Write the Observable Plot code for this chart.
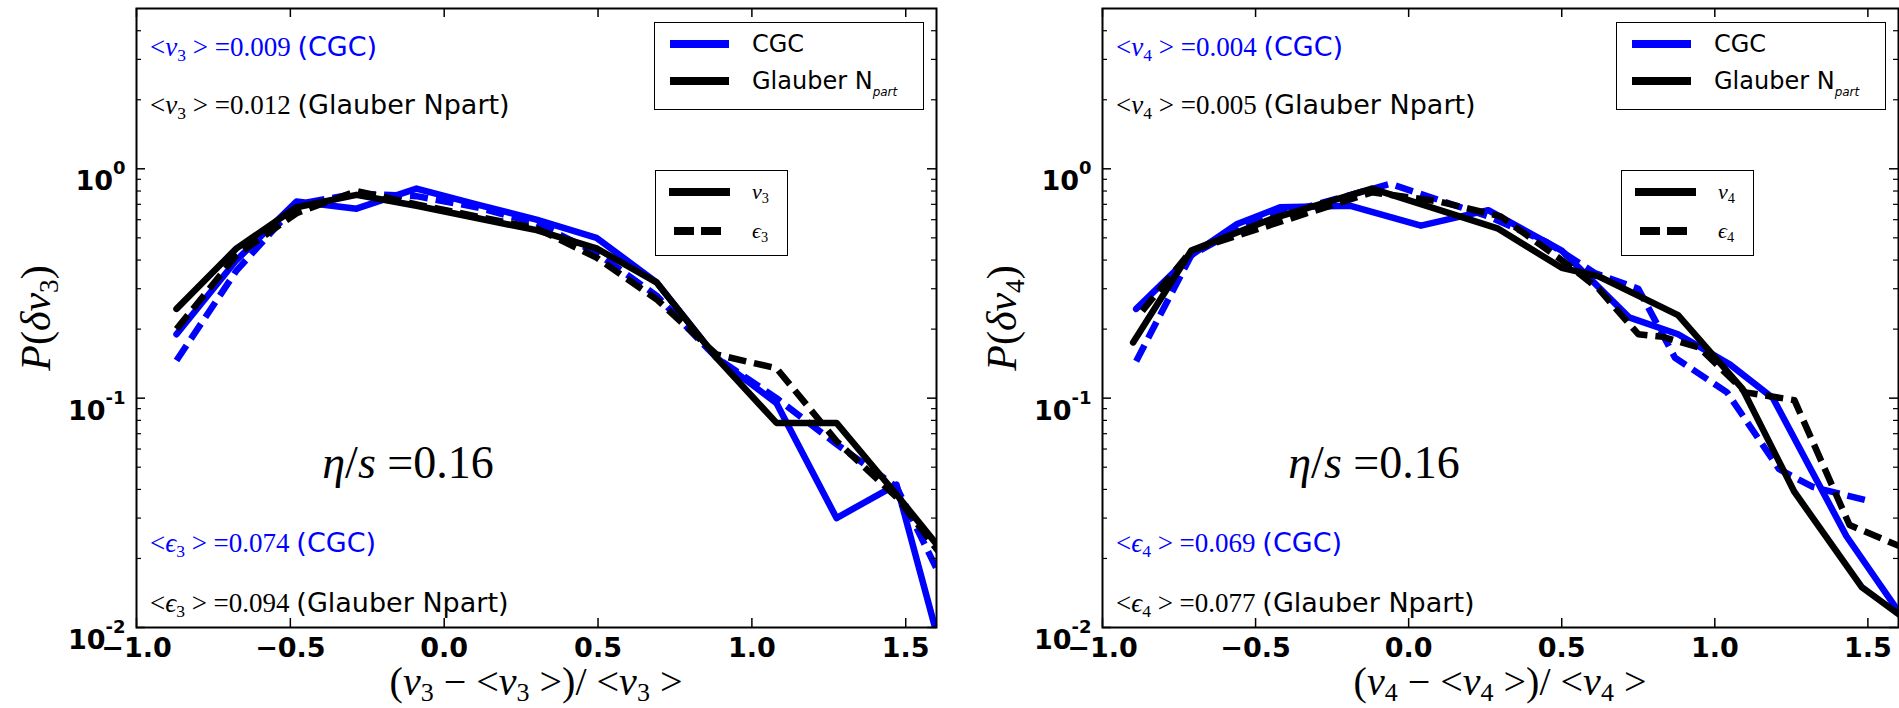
<!DOCTYPE html>
<html><head><meta charset="utf-8">
<script src="https://cdn.jsdelivr.net/npm/d3@7"></script>
<script src="https://cdn.jsdelivr.net/npm/@observablehq/plot@0.6"></script>
<style>
body{margin:0;background:#fff;}
#wrap{position:relative;width:1899px;height:708px;overflow:hidden;background:#fff;}
.panel{position:absolute;top:0;}
.ann{position:absolute;white-space:nowrap;line-height:1.1;}
.cm{font-family:"Liberation Serif",serif;}
.sans{font-family:"DejaVu Sans",sans-serif;}
sub{font-size:65%;vertical-align:-0.3em;line-height:0;}
.xl sub{vertical-align:-0.22em;}
.leg{position:absolute;border:1.5px solid #000;background:#fff;box-sizing:border-box;}
</style></head><body><div id="wrap"></div><script>
// ---------- data ----------
const xTicks = [-1.0, -0.5, 0.0, 0.5, 1.0, 1.5];
const yTicks = [0.01, 0.1, 1];
const yMinorTicks = [0.02,0.03,0.04,0.05,0.06,0.07,0.08,0.09,0.2,0.3,0.4,0.5,0.6,0.7,0.8,0.9,2,3,4];

// left panel (v3)
const v3CgcX = [-0.87,-0.675,-0.48,-0.285,-0.09,0.105,0.30,0.495,0.69,0.885,1.08,1.275,1.47,1.665];
const v3CgcY = [0.19,0.40,0.72,0.67,0.82,0.70,0.60,0.50,0.32,0.15,0.095,0.030,0.042,0.0045];
const e3CgcX = [-0.87,-0.675,-0.48,-0.285,-0.09,0.105,0.30,0.495,0.69,0.885,1.08,1.275,1.47,1.665];
const e3CgcY = [0.146,0.36,0.70,0.78,0.76,0.68,0.58,0.43,0.28,0.15,0.10,0.063,0.041,0.012];
const v3GlbX = [-0.87,-0.675,-0.48,-0.285,-0.09,0.105,0.30,0.495,0.69,0.885,1.08,1.275,1.47,1.665];
const v3GlbY = [0.245,0.45,0.68,0.77,0.69,0.61,0.54,0.45,0.32,0.15,0.078,0.078,0.038,0.018];
const e3GlbX = [-0.87,-0.675,-0.48,-0.285,-0.09,0.105,0.30,0.495,0.69,0.885,1.08,1.275,1.47,1.665];
const e3GlbY = [0.20,0.42,0.64,0.80,0.70,0.62,0.55,0.41,0.27,0.155,0.135,0.065,0.037,0.017];

// right panel (v4)
const v4CgcX = [-0.89,-0.71,-0.56,-0.42,-0.19,0.04,0.26,0.50,0.72,0.88,1.05,1.19,1.43,1.66];
const v4CgcY = [0.245,0.42,0.575,0.68,0.69,0.565,0.66,0.44,0.225,0.19,0.14,0.10,0.025,0.009];
const e4CgcX = [-0.89,-0.71,-0.50,-0.30,-0.06,0.26,0.45,0.61,0.75,0.87,1.04,1.21,1.32,1.49];
const e4CgcY = [0.145,0.42,0.60,0.70,0.86,0.62,0.48,0.35,0.30,0.15,0.106,0.049,0.041,0.036];
const v4GlbX = [-0.90,-0.71,-0.44,-0.12,0.29,0.50,0.62,0.88,1.09,1.26,1.48,1.66];
const v4GlbY = [0.175,0.44,0.61,0.82,0.55,0.37,0.34,0.23,0.11,0.039,0.015,0.010];
const e4GlbX = [-0.87,-0.71,-0.12,0.10,0.30,0.50,0.62,0.75,0.83,0.95,1.10,1.26,1.44,1.66];
const e4GlbY = [0.24,0.44,0.79,0.72,0.62,0.40,0.30,0.19,0.185,0.166,0.106,0.098,0.028,0.021];

const meanLabelsV3 = ["0.009", "0.012"];
const meanLabelsE3 = ["0.074", "0.094"];
const meanLabelsV4 = ["0.004", "0.005"];
const meanLabelsE4 = ["0.069", "0.077"];
const etaOverS = "0.16";

// ---------- layout ----------
const BLUE = "#0000ff";
const H = 708, MT = 8, MB = 81;
const wrap = document.getElementById("wrap");
const ns = "http://www.w3.org/2000/svg";

function toRows(xs, ys) { return xs.map((x, i) => ({x, y: ys[i]})); }

function addDiv(html, left, top, cls, style) {
  const d = document.createElement("div");
  d.className = "ann " + (cls || "");
  d.innerHTML = html;
  d.style.left = left + "px";
  d.style.top = top + "px";
  Object.assign(d.style, style || {});
  wrap.appendChild(d);
  return d;
}

function buildPanel(p) {
  const innerH = H - MT - MB;
  const innerW = p.width - p.ml - p.mr;
  const lineMarks = p.series.map(s => Plot.line(toRows(s.x, s.y), {
    x: "x", y: "y", stroke: s.color, strokeWidth: 6.5,
    strokeDasharray: s.dash ? "18,8" : null,
    strokeLinejoin: "round", strokeLinecap: s.dash ? "butt" : "round", clip: true
  }));
  const plot = Plot.plot({
    width: p.width, height: H, marginLeft: p.ml, marginRight: p.mr, marginTop: MT, marginBottom: MB,
    style: {fontFamily: "DejaVu Sans", background: "transparent", overflow: "visible"},
    x: {domain: [-1, 1.6]},
    y: {type: "log", domain: [0.01, 5]},
    marks: [
      ...lineMarks,
      Plot.tickX(xTicks, {x: d => d, insetTop: innerH - 9, strokeWidth: 1.5}),
      Plot.tickX(xTicks, {x: d => d, insetBottom: innerH - 9, strokeWidth: 1.5}),
      Plot.tickY(yTicks, {y: d => d, insetRight: innerW - 9, strokeWidth: 1.5}),
      Plot.tickY(yTicks, {y: d => d, insetLeft: innerW - 9, strokeWidth: 1.5}),
      Plot.tickY(yMinorTicks, {y: d => d, insetRight: innerW - 5, strokeWidth: 1.2}),
      Plot.tickY(yMinorTicks, {y: d => d, insetLeft: innerW - 5, strokeWidth: 1.2}),
      Plot.axisX(xTicks, {tickSize: 0, tickPadding: 10, label: null, fontSize: 27, fontWeight: "bold",
        tickFormat: d => d.toFixed(1).replace("-", "\u2212")}),
      Plot.axisY(yTicks, {tickSize: 0, tickPadding: 11, label: null, fontSize: 27, fontWeight: "bold", dy: 13,
        tickFormat: d => String(Math.round(Math.log10(d)))}),
      Plot.frame({strokeWidth: 2})
    ]
  });
  plot.classList.add("panel");
  plot.style.left = p.left + "px";
  wrap.appendChild(plot);
  // superscript exponents on y tick labels
  plot.querySelectorAll('g[aria-label="y-axis tick label"] text').forEach(t => {
    const e = t.textContent;
    t.textContent = "";
    const a = document.createElementNS(ns, "tspan"); a.textContent = "10";
    const b = document.createElementNS(ns, "tspan"); b.textContent = e;
    b.setAttribute("dy", "-16"); b.setAttribute("font-size", "18");
    t.append(a, b);
  });

  const FL = p.left + p.ml, FR = p.left + p.width - p.mr, FT = MT, FB = H - MB;
  const n = p.n;
  // annotations
  addDiv(`&lt;<i>v</i><sub>${n}</sub> &gt; =${p.vMeans[0]} <span class="sans">(CGC)</span>`, FL + 14, 47, "cm", {color: BLUE, fontSize: "27px", transform: "translateY(-50%)"});
  addDiv(`&lt;<i>v</i><sub>${n}</sub> &gt; =${p.vMeans[1]} <span class="sans">(Glauber Npart)</span>`, FL + 14, 105, "cm", {color: "#000", fontSize: "27px", transform: "translateY(-50%)"});
  addDiv(`&lt;<i>ϵ</i><sub>${n}</sub> &gt; =${p.eMeans[0]} <span class="sans">(CGC)</span>`, FL + 14, 543, "cm", {color: BLUE, fontSize: "27px", transform: "translateY(-50%)"});
  addDiv(`&lt;<i>ϵ</i><sub>${n}</sub> &gt; =${p.eMeans[1]} <span class="sans">(Glauber Npart)</span>`, FL + 14, 603, "cm", {color: "#000", fontSize: "27px", transform: "translateY(-50%)"});
  addDiv(`<i>η</i>/<i>s</i> =${etaOverS}`, FL + 272, 463, "cm", {fontSize: "46px", transform: "translate(-50%,-50%)"});
  // axis labels
  addDiv(`(<i>v</i><sub>${n}</sub> − &lt;<i>v</i><sub>${n}</sub> &gt;)/ &lt;<i>v</i><sub>${n}</sub> &gt;`, (FL + FR) / 2, 664, "cm xl", {fontSize: "40px", lineHeight: "0.92", transform: "translateX(-50%)"});
  addDiv(`<i>P</i>(<i>δv</i><sub>${n}</sub>)`, FL - 100, (FT + FB) / 2, "cm", {fontSize: "42px", transform: "translate(-50%,-50%) rotate(-90deg)"});

  // legend 1 (model)
  const l1 = document.createElement("div");
  l1.className = "leg";
  Object.assign(l1.style, {left: (FR - 12 - 270) + "px", top: "22px", width: "270px", height: "88px"});
  l1.innerHTML = `
    <svg width="270" height="88" style="position:absolute;left:0;top:0">
      <line x1="15" x2="74" y1="21" y2="21" stroke="${BLUE}" stroke-width="8"/>
      <line x1="15" x2="74" y1="58" y2="58" stroke="#000" stroke-width="8"/>
    </svg>
    <div class="ann sans" style="left:97px;top:21px;transform:translateY(-50%);font-size:24px">CGC</div>
    <div class="ann sans" style="left:97px;top:58px;transform:translateY(-50%);font-size:24px">Glauber N<sub style="font-size:50%;font-style:italic;vertical-align:-0.6em">part</sub></div>`;
  wrap.appendChild(l1);
  // legend 2 (quantity)
  const l2 = document.createElement("div");
  l2.className = "leg";
  Object.assign(l2.style, {left: (FL + 519) + "px", top: "170px", width: "133px", height: "86px"});
  l2.innerHTML = `
    <svg width="133" height="86" style="position:absolute;left:0;top:0">
      <line x1="13" x2="74" y1="21" y2="21" stroke="#000" stroke-width="8"/>
      <line x1="18" x2="65" y1="60" y2="60" stroke="#000" stroke-width="8" stroke-dasharray="20,7"/>
    </svg>
    <div class="ann cm" style="left:96px;top:21px;transform:translateY(-50%);font-size:22px"><i>v</i><sub>${n}</sub></div>
    <div class="ann cm" style="left:96px;top:60px;transform:translateY(-50%);font-size:22px"><i>ϵ</i><sub>${n}</sub></div>`;
  wrap.appendChild(l2);
}

buildPanel({
  left: 0, width: 1000, ml: 136, mr: 64, n: 3,
  vMeans: meanLabelsV3, eMeans: meanLabelsE3,
  series: [
    {x: v3CgcX, y: v3CgcY, color: BLUE, dash: false},
    {x: e3CgcX, y: e3CgcY, color: BLUE, dash: true},
    {x: v3GlbX, y: v3GlbY, color: "#000", dash: false},
    {x: e3GlbX, y: e3GlbY, color: "#000", dash: true}
  ]
});
buildPanel({
  left: 1000, width: 899, ml: 102, mr: 1, n: 4,
  vMeans: meanLabelsV4, eMeans: meanLabelsE4,
  series: [
    {x: v4CgcX, y: v4CgcY, color: BLUE, dash: false},
    {x: e4CgcX, y: e4CgcY, color: BLUE, dash: true},
    {x: v4GlbX, y: v4GlbY, color: "#000", dash: false},
    {x: e4GlbX, y: e4GlbY, color: "#000", dash: true}
  ]
});
</script></body></html>
